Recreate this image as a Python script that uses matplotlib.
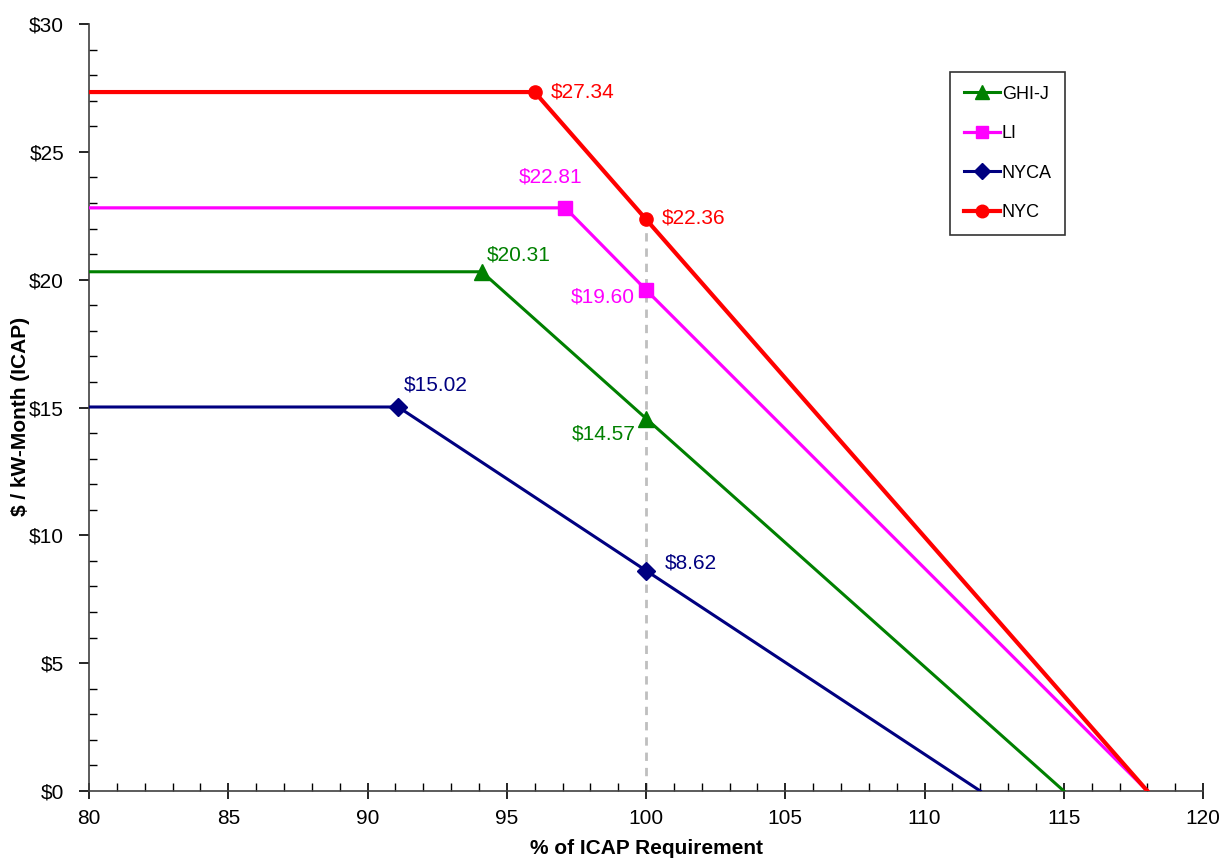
import matplotlib.pyplot as plt
from matplotlib.ticker import MultipleLocator, FuncFormatter

plt.rcParams['font.family'] = ['Liberation Sans', 'DejaVu Sans']

# demand curve points: (% of ICAP requirement, $/kW-month)
zones = ['GHI-J', 'LI', 'NYCA', 'NYC']
ghij_x = [80, 94.1, 100, 115]
ghij_y = [20.31, 20.31, 14.57, 0]
li_x = [80, 97.1, 100, 118]
li_y = [22.81, 22.81, 19.60, 0]
nyca_x = [80, 91.1, 100, 112]
nyca_y = [15.02, 15.02, 8.62, 0]
nyc_x = [80, 96.0, 100, 118]
nyc_y = [27.34, 27.34, 22.36, 0]

colors = ['#008000', '#FF00FF', '#000080', '#FF0000']
markers = ['^', 's', 'D', 'o']
msizes = [11, 9.5, 9, 9.5]
widths = [2.2, 2.3, 2.2, 3.0]
# label offsets (pixels) for the corner point and the 100% point
offsets = [((5, 17), 'left', (-10, -15), 'right'),
           ((-15, 31), 'center', (-11, -7), 'right'),
           ((6, 22), 'left', (19, 8), 'left'),
           ((16, 0), 'left', (16, 1), 'left')]

fig = plt.figure(figsize=(12.25, 8.59), dpi=100)
ax = fig.add_axes([0.0727, 0.0792, 0.9094, 0.8928])

# reference line at 100%
ax.plot([100, 100], [0, nyc_y[2]], color='#BFBFBF', lw=2, ls=(0, (3, 2.5)), zorder=1)

series = [(ghij_x, ghij_y), (li_x, li_y), (nyca_x, nyca_y), (nyc_x, nyc_y)]
for i, (xs, ys) in enumerate(series):
    ax.plot(xs, ys, color=colors[i], lw=widths[i], marker=markers[i],
            ms=msizes[i], markevery=[1, 2], label=zones[i], zorder=3)
    (o1, ha1, o2, ha2) = offsets[i]
    ax.annotate(f'${ys[1]:.2f}', (xs[1], ys[1]), xytext=o1, textcoords='offset pixels',
                ha=ha1, va='center', color=colors[i], fontsize=15)
    ax.annotate(f'${ys[2]:.2f}', (xs[2], ys[2]), xytext=o2, textcoords='offset pixels',
                ha=ha2, va='center', color=colors[i], fontsize=15)

ax.set_xlim(80, 120)
ax.set_ylim(0, 30)
ax.xaxis.set_major_locator(MultipleLocator(5))
ax.xaxis.set_minor_locator(MultipleLocator(1))
ax.yaxis.set_major_locator(MultipleLocator(5))
ax.yaxis.set_minor_locator(MultipleLocator(1))
ax.yaxis.set_major_formatter(FuncFormatter(lambda v, p: f'${v:.0f}'))

for s in ['top', 'right']:
    ax.spines[s].set_visible(False)
for s in ['left', 'bottom']:
    ax.spines[s].set_color('#404040')
    ax.spines[s].set_linewidth(1.2)

ax.tick_params(axis='x', which='major', direction='inout', length=12, width=1.2, labelsize=15, pad=7)
ax.tick_params(axis='x', which='minor', direction='in', length=6, width=1)
ax.tick_params(axis='y', which='major', direction='out', length=7, width=1.2, labelsize=15, pad=11)
ax.tick_params(axis='y', which='minor', direction='in', length=6, width=1)

ax.set_xlabel('% of ICAP Requirement', fontsize=15, fontweight='bold', labelpad=8)
ax.set_ylabel('$ / kW-Month (ICAP)', fontsize=15, fontweight='bold')
ax.yaxis.set_label_coords(-0.053, 0.489)

leg = ax.legend(loc='upper left', bbox_to_anchor=(0.773, 0.9374), borderaxespad=0,
                fontsize=13, frameon=True, fancybox=False, edgecolor='black',
                handlelength=2.0, handletextpad=0.1, labelspacing=1.25, borderpad=0.75,
                markerscale=0.95)
leg.get_frame().set_linewidth(1.2)

fig.savefig('out.png', dpi=100)
